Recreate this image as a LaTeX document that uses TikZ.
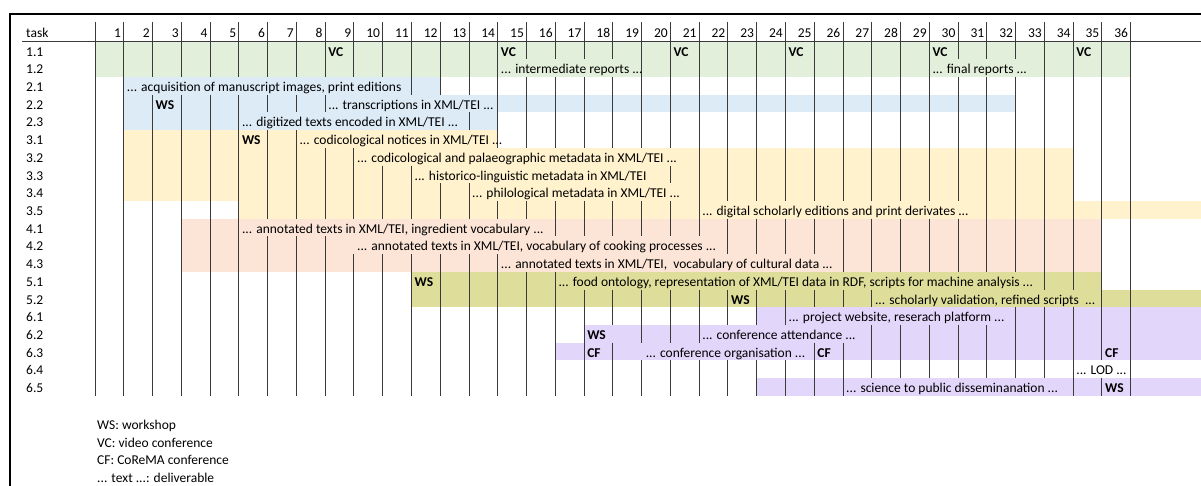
\documentclass[tikz,border=0pt]{standalone}
\usepackage{fontspec}
\setmainfont{Carlito}
\definecolor{cgreen}{HTML}{E2EFDA}
\definecolor{cblue}{HTML}{DDEBF7}
\definecolor{cyellow}{HTML}{FFF2CC}
\definecolor{csalmon}{HTML}{FCE4D6}
\definecolor{colive}{HTML}{DEDE9A}
\definecolor{cpurple}{HTML}{E3D6FB}
\definecolor{gridgray}{HTML}{3A3A3A}
\begin{document}
\begin{tikzpicture}[x=1pt,y=-1pt,
  declare function={lx(\k)=95+28.77*\k; rt(\r)=41.7+17.7*\r;},
  txt/.style={anchor=base west,inner sep=0pt,font=\fontsize{13.5}{16}\selectfont},
  bf/.style={anchor=base west,inner sep=0pt,font=\fontsize{13.5}{16}\selectfont\bfseries},
  num/.style={anchor=base east,inner sep=0pt,font=\fontsize{13.5}{16}\selectfont},
  grid/.style={draw=gridgray,line width=1pt},
  frame/.style={draw=black,line width=1.3pt}]
\useasboundingbox (0,0) rectangle (1201,486);
\fill[white] (0,0) rectangle (1201,486);
% ---- colour bands
\fill[cgreen]  ({lx(0)},{rt(0)}) rectangle ({lx(36)},{rt(2)});
\fill[cblue]   ({lx(1)},{rt(2)}) rectangle ({lx(12)},{rt(3)});
\fill[cblue]   ({lx(1)},{rt(3)}) rectangle ({lx(32)},{rt(4)});
\fill[cblue]   ({lx(1)},{rt(4)}) rectangle ({lx(14)},{rt(5)});
\fill[cyellow] ({lx(1)},{rt(5)}) rectangle ({lx(14)},{rt(6)});
\fill[cyellow] ({lx(1)},{rt(6)}) rectangle ({lx(34)},{rt(9)});
\fill[cyellow] ({lx(5)},{rt(9)}) rectangle (1201,{rt(10)});
\fill[csalmon] ({lx(3)},{rt(10)}) rectangle ({lx(35)},{rt(13)});
\fill[colive]  ({lx(11)},{rt(13)}) rectangle ({lx(35)},{rt(14)});
\fill[colive]  ({lx(11)},{rt(14)}) rectangle (1201,{rt(15)});
\fill[cpurple] ({lx(23)},{rt(15)}) rectangle (1201,{rt(16)});
\fill[cpurple] ({lx(17)},{rt(16)}) rectangle (1201,{rt(17)});
\fill[cpurple] ({lx(16)},{rt(17)}) rectangle (1201,{rt(18)});
\fill[cpurple] ({lx(23)},{rt(19)}) rectangle (1201,{rt(20)});
% ---- frame and header rule
\draw[frame] (10,486) -- (10,14) -- (1201,14);
\draw[grid] (22,{rt(0)}) -- (1201,{rt(0)});
% ---- vertical grid lines
\foreach \k in {0,...,36}{\draw[grid] ({lx(\k)},22.5) -- ({lx(\k)},{rt(0)});}
\newcommand\vseg[3]{\foreach \k in {#2,...,#3}{\draw[grid] ({lx(\k)},{rt(#1)}) -- ({lx(\k)},{rt(#1)+17.7});}}
\vseg{0}{0}{36}
\vseg{1}{0}{14}\vseg{1}{19}{29}\vseg{1}{33}{36}
\vseg{2}{0}{1}\vseg{2}{11}{36}
\vseg{3}{0}{8}\vseg{3}{14}{36}
\vseg{4}{0}{5}\vseg{4}{13}{36}
\vseg{5}{0}{7}\vseg{5}{14}{36}
\vseg{6}{0}{9}\vseg{6}{21}{36}
\vseg{7}{0}{11}\vseg{7}{20}{36}
\vseg{8}{0}{13}\vseg{8}{21}{36}
\vseg{9}{0}{21}\vseg{9}{31}{36}
\vseg{10}{0}{5}\vseg{10}{16}{36}
\vseg{11}{0}{8}\vseg{11}{22}{36}
\vseg{12}{0}{14}\vseg{12}{26}{36}
\vseg{13}{0}{16}\vseg{13}{33}{36}
\vseg{14}{0}{27}\vseg{14}{35}{36}
\vseg{15}{0}{24}\vseg{15}{32}{36}
\vseg{16}{0}{17}\vseg{16}{19}{21}\vseg{16}{27}{36}
\vseg{17}{0}{18}\vseg{17}{25}{36}
\vseg{18}{0}{34}\vseg{18}{36}{36}
\vseg{19}{0}{26}\vseg{19}{34}{36}
% ---- header
\node[txt] (task) at (26,37.5) {task};
\foreach \k in {1,...,36}{\node[num] (h\k) at ({lx(\k)-2.5},37.5) {\k};}
% ---- row labels
\foreach \lab [count=\i from 0] in {1.1,1.2,2.1,2.2,2.3,3.1,3.2,3.3,3.4,3.5,4.1,4.2,4.3,5.1,5.2,6.1,6.2,6.3,6.4,6.5}
  {\node[txt] (l\i) at (26,{rt(\i)+14.5}) {\lab};}
% ---- row 1.1 video conferences
\foreach \k [count=\j] in {8,14,20,24,29,34}{\node[bf] (vc\j) at ({lx(\k)+3},{rt(0)+14.5}) {VC};}
% ---- row contents
\node[txt] (d12a) at ({lx(14)+3},{rt(1)+14.5}) {... intermediate reports ...};
\node[txt] (d12b) at ({lx(29)+3},{rt(1)+14.5}) {... final reports ...};
\node[txt] (d21) at ({lx(1)+3},{rt(2)+14.5}) {... acquisition of manuscript images, print editions};
\node[bf]  (w22) at ({lx(2)+3},{rt(3)+14.5}) {WS};
\node[txt] (d22) at ({lx(8)+3},{rt(3)+14.5}) {... transcriptions in XML/TEI ...};
\node[txt] (d23) at ({lx(5)+3},{rt(4)+14.5}) {... digitized texts encoded in XML/TEI ...};
\node[bf]  (w31) at ({lx(5)+3},{rt(5)+14.5}) {WS};
\node[txt] (d31) at ({lx(7)+3},{rt(5)+14.5}) {... codicological notices in XML/TEI ...};
\node[txt] (d32) at ({lx(9)+3},{rt(6)+14.5}) {... codicological and palaeographic metadata in XML/TEI ...};
\node[txt] (d33) at ({lx(11)+3},{rt(7)+14.5}) {... historico-linguistic metadata in XML/TEI};
\node[txt] (d34) at ({lx(13)+3},{rt(8)+14.5}) {... philological metadata in XML/TEI ...};
\node[txt] (d35) at ({lx(21)+3},{rt(9)+14.5}) {... digital scholarly editions and print derivates ...};
\node[txt] (d41) at ({lx(5)+3},{rt(10)+14.5}) {... annotated texts in XML/TEI, ingredient vocabulary ...};
\node[txt] (d42) at ({lx(9)+3},{rt(11)+14.5}) {... annotated texts in XML/TEI, vocabulary of cooking processes ...};
\node[txt] (d43) at ({lx(14)+3},{rt(12)+14.5}) {... annotated texts in XML/TEI,\ \ vocabulary of cultural data ...};
\node[bf]  (w51) at ({lx(11)+3},{rt(13)+14.5}) {WS};
\node[txt] (d51) at ({lx(16)+3},{rt(13)+14.5}) {... food ontology, representation of XML/TEI data in RDF, scripts for machine analysis ...};
\node[bf]  (w52) at ({lx(22)+3},{rt(14)+14.5}) {WS};
\node[txt] (d52) at ({lx(27)+3},{rt(14)+14.5}) {... scholarly validation, refined scripts\ \ ...};
\node[txt] (d61) at ({lx(24)+3},{rt(15)+14.5}) {... project website, reserach platform ...};
\node[bf]  (w62) at ({lx(17)+3},{rt(16)+14.5}) {WS};
\node[txt] (d62) at ({lx(21)+3},{rt(16)+14.5}) {... conference attendance ...};
\node[bf]  (c63a) at ({lx(17)+3},{rt(17)+14.5}) {CF};
\node[txt] (d63) at ({lx(19)+4},{rt(17)+14.5}) {... conference organisation ...};
\node[bf]  (c63b) at ({lx(25)+3},{rt(17)+14.5}) {CF};
\node[bf]  (c63c) at ({lx(35)+3},{rt(17)+14.5}) {CF};
\node[txt] (d64) at ({lx(34)+3},{rt(18)+14.5}) {... LOD ...};
\node[txt] (d65) at ({lx(26)+3},{rt(19)+14.5}) {... science to public disseminanation ...};
\node[bf]  (w65) at ({lx(35)+3},{rt(19)+14.5}) {WS};
% ---- legend
\node[txt] (lg1) at (97,429.5) {WS: workshop};
\node[txt] (lg2) at (97,447.2) {VC: video conference};
\node[txt] (lg3) at (97,464.9) {CF: CoReMA conference};
\node[txt] (lg4) at (97,482.6) {... text ...: deliverable};
\end{tikzpicture}
\end{document}
